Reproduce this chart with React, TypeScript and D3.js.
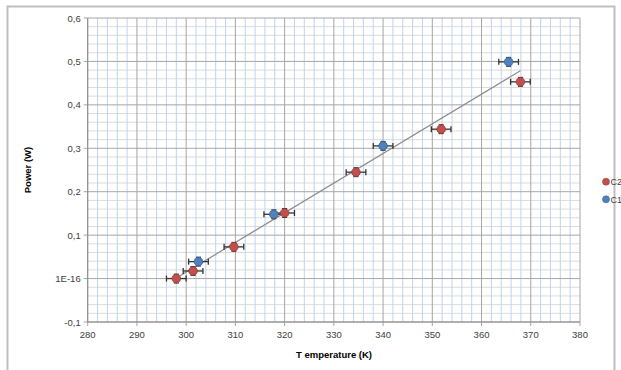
import React from "react";
import * as d3 from "d3";

const c2Temp = [298, 301.4, 309.7, 320, 334.5, 351.8, 367.9];
const c2Power = [0, 0.0175, 0.073, 0.151, 0.245, 0.344, 0.453];
const c1Temp = [302.5, 317.8, 340, 365.5];
const c1Power = [0.039, 0.148, 0.3055, 0.499];
const tempError = 2;
const powerError = 0.01;
const xTicks = [280, 290, 300, 310, 320, 330, 340, 350, 360, 370, 380];
const yTicks = [-0.1, 0, 0.1, 0.2, 0.3, 0.4, 0.5, 0.6];
const yTickLabels = ["-0,1", "1E-16", "0,1", "0,2", "0,3", "0,4", "0,5", "0,6"];
const seriesNames = ["C2", "C1"];

export default function App() {
  const W = 621, H = 370;
  const left = 87.7, right = 580, top = 18, bottom = 322;
  const x = d3.scaleLinear().domain([280, 380]).range([left, right]);
  const y = d3.scaleLinear().domain([-0.1, 0.6]).range([bottom, top]);
  const font = "'Liberation Sans', Arial, sans-serif";

  const minorX = d3.range(280, 380.001, 2).filter((v) => Math.abs(v % 10) > 0.01);
  const minorY = d3.range(-0.1, 0.6001, 0.02).filter((v) => Math.abs(Math.round(v * 100) % 10) > 0.5);

  const allX = [...c2Temp, ...c1Temp];
  const allY = [...c2Power, ...c1Power];
  const mx = d3.mean(allX)!, my = d3.mean(allY)!;
  const slope = d3.sum(allX.map((v, i) => (v - mx) * (allY[i] - my))) / d3.sum(allX.map((v) => (v - mx) ** 2));
  const x0 = d3.min(allX)!, x1 = d3.max(allX)!;
  const line = d3.line<[number, number]>().x((d) => x(d[0])).y((d) => y(d[1]));
  const trend = line([[x0, my + slope * (x0 - mx)], [x1, my + slope * (x1 - mx)]]);

  const series = [
    { name: seriesNames[0], t: c2Temp, p: c2Power, color: "#c0504d", stroke: "#9a3b38" },
    { name: seriesNames[1], t: c1Temp, p: c1Power, color: "#4f81bd", stroke: "#3a6494" },
  ];

  const errBars = (t: number, p: number, k: string) => {
    const cx = x(t), cy = y(p);
    const xl = x(t - tempError), xr = x(t + tempError);
    const yt = y(p + powerError), yb = y(p - powerError);
    return (
      <g key={k} stroke="#333" strokeWidth={1.3}>
        <line x1={xl} x2={xr} y1={cy} y2={cy} />
        <line x1={xl} x2={xl} y1={cy - 3} y2={cy + 3} />
        <line x1={xr} x2={xr} y1={cy - 3} y2={cy + 3} />
        <line x1={cx} x2={cx} y1={yt} y2={yb} />
        <line x1={cx - 2.5} x2={cx + 2.5} y1={yt} y2={yt} />
        <line x1={cx - 2.5} x2={cx + 2.5} y1={yb} y2={yb} />
      </g>
    );
  };

  return (
    <svg width={W} height={H} style={{ position: "absolute", left: 0, top: 0 }}>
      <rect x={0} y={0} width={W} height={H} fill="#fff" />
      <rect x={7.5} y={6.5} width={607} height={380} fill="none" stroke="#bfbfbf" strokeWidth={2} />
      {minorY.map((v, i) => (
        <line key={"my" + i} x1={left} x2={right} y1={y(v)} y2={y(v)} stroke="#dcdcdc" strokeWidth={1} />
      ))}
      {minorX.map((v, i) => (
        <line key={"mx" + i} x1={x(v)} x2={x(v)} y1={top} y2={bottom} stroke="#c0d3ee" strokeWidth={1} />
      ))}
      {yTicks.map((v, i) => (
        <line key={"gy" + i} x1={left - 4} x2={right} y1={y(v)} y2={y(v)} stroke="#a6a6a6" strokeWidth={1} />
      ))}
      {xTicks.map((v, i) => (
        <line key={"gx" + i} x1={x(v)} x2={x(v)} y1={top} y2={bottom + 4} stroke="#a6a6a6" strokeWidth={1} />
      ))}
      <line x1={left} x2={left} y1={top} y2={bottom} stroke="#8c8c8c" />
      <line x1={left} x2={right} y1={bottom} y2={bottom} stroke="#8c8c8c" />
      {yTicks.map((v, i) => (
        <text key={"ty" + i} x={left - 7} y={y(v) + 3.5} textAnchor="end" fontSize={9.5} fontFamily={font} fill="#404040">
          {yTickLabels[i]}
        </text>
      ))}
      {xTicks.map((v, i) => (
        <text key={"tx" + i} x={x(v)} y={bottom + 16} textAnchor="middle" fontSize={9.5} fontFamily={font} fill="#404040">
          {v}
        </text>
      ))}
      <path d={trend ?? ""} stroke="#8c8c8c" strokeWidth={1.2} fill="none" />
      {series.map((s) => s.t.map((t, i) => errBars(t, s.p[i], s.name + "e" + i)))}
      {series.map((s) =>
        s.t.map((t, i) => (
          <circle key={s.name + "c" + i} cx={x(t)} cy={y(s.p[i])} r={4.3} fill={s.color} stroke={s.stroke} strokeWidth={0.8} />
        ))
      )}
      <text x={334} y={358} textAnchor="middle" fontSize={9.5} fontWeight="bold" fontFamily={font} fill="#000">
        T emperature (K)
      </text>
      <text transform="translate(31,170) rotate(-90)" textAnchor="middle" fontSize={9.5} fontWeight="bold" fontFamily={font} fill="#000">
        Power (W)
      </text>
      {series.map((s, i) => (
        <g key={"lg" + i}>
          <circle cx={606} cy={181.7 + i * 17.6} r={3.5} fill={s.color} stroke={s.stroke} strokeWidth={0.6} />
          <text x={610.5} y={181.7 + i * 17.6 + 3.3} fontSize={9} fontFamily={font} fill="#404040">
            {s.name}
          </text>
        </g>
      ))}
    </svg>
  );
}
